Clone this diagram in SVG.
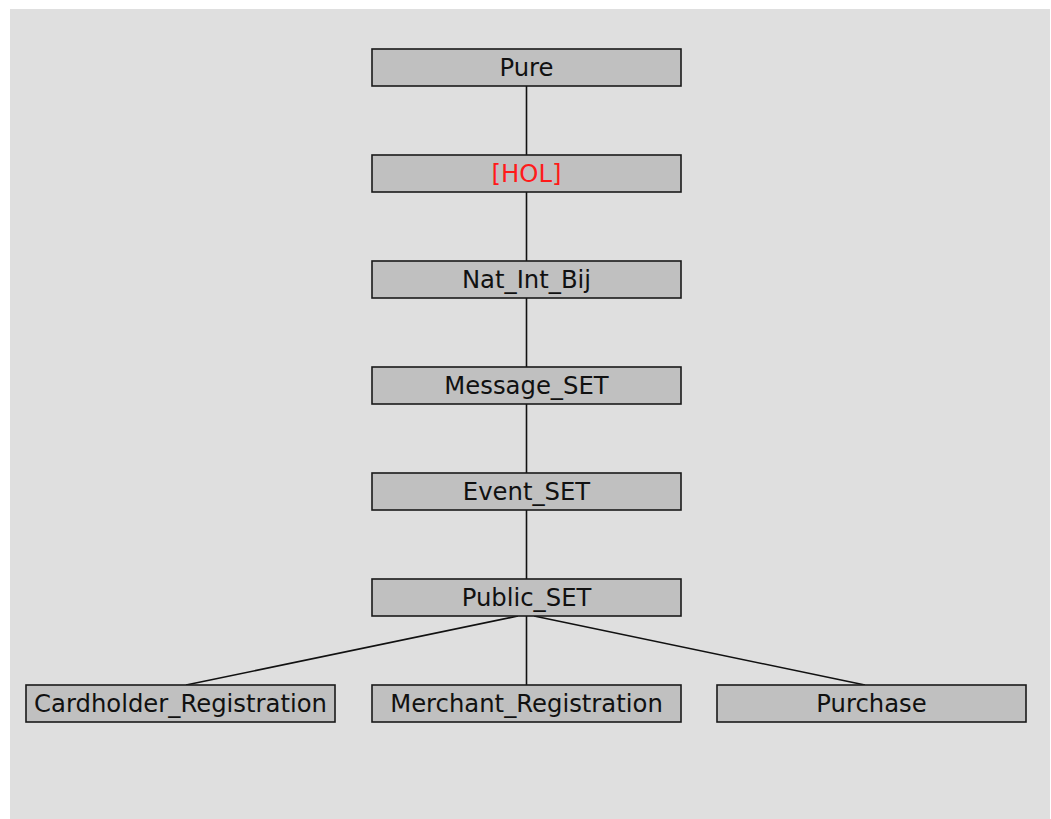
<svg xmlns="http://www.w3.org/2000/svg" width="1051" height="819" viewBox="0 0 1051 819">
  <style>
    .node rect { fill: #c0c0c0; stroke: #1a1a1a; stroke-width: 1.6; }
    .node text { font-family: "DejaVu Sans", sans-serif; font-size: 24.3px; fill: #111; text-anchor: middle; }
    .node text.hol { fill: #ff1a1a; }
    #edges line { stroke: #111; stroke-width: 1.6; }
  </style>
  <rect x="0" y="0" width="1051" height="819" fill="#ffffff"/>
  <rect x="10" y="9" width="1040" height="810" fill="#dfdfdf"/>

  <g id="edges">
    <line x1="526.5" y1="86" x2="526.5" y2="155"/>
    <line x1="526.5" y1="192" x2="526.5" y2="261"/>
    <line x1="526.5" y1="298" x2="526.5" y2="367"/>
    <line x1="526.5" y1="404" x2="526.5" y2="473"/>
    <line x1="526.5" y1="510" x2="526.5" y2="579"/>
    <line x1="526.5" y1="616" x2="526.5" y2="685"/>
    <line x1="518" y1="616" x2="186" y2="685"/>
    <line x1="534" y1="616" x2="865" y2="685"/>
  </g>

  <g id="n-pure" class="node"><rect x="372" y="49" width="309" height="37"/><text x="526.5" y="76">Pure</text></g>
  <g id="n-hol" class="node"><rect x="372" y="155" width="309" height="37"/><text class="hol" x="526.5" y="182">[HOL]</text></g>
  <g id="n-natintbij" class="node"><rect x="372" y="261" width="309" height="37"/><text x="526.5" y="288">Nat_Int_Bij</text></g>
  <g id="n-message" class="node"><rect x="372" y="367" width="309" height="37"/><text x="526.5" y="394">Message_SET</text></g>
  <g id="n-event" class="node"><rect x="372" y="473" width="309" height="37"/><text x="526.5" y="500">Event_SET</text></g>
  <g id="n-public" class="node"><rect x="372" y="579" width="309" height="37"/><text x="526.5" y="606">Public_SET</text></g>
  <g id="n-cardholder" class="node"><rect x="26" y="685" width="309" height="37"/><text x="180.5" y="712">Cardholder_Registration</text></g>
  <g id="n-merchant" class="node"><rect x="372" y="685" width="309" height="37"/><text x="526.5" y="712">Merchant_Registration</text></g>
  <g id="n-purchase" class="node"><rect x="717" y="685" width="309" height="37"/><text x="871.5" y="712">Purchase</text></g>
</svg>
